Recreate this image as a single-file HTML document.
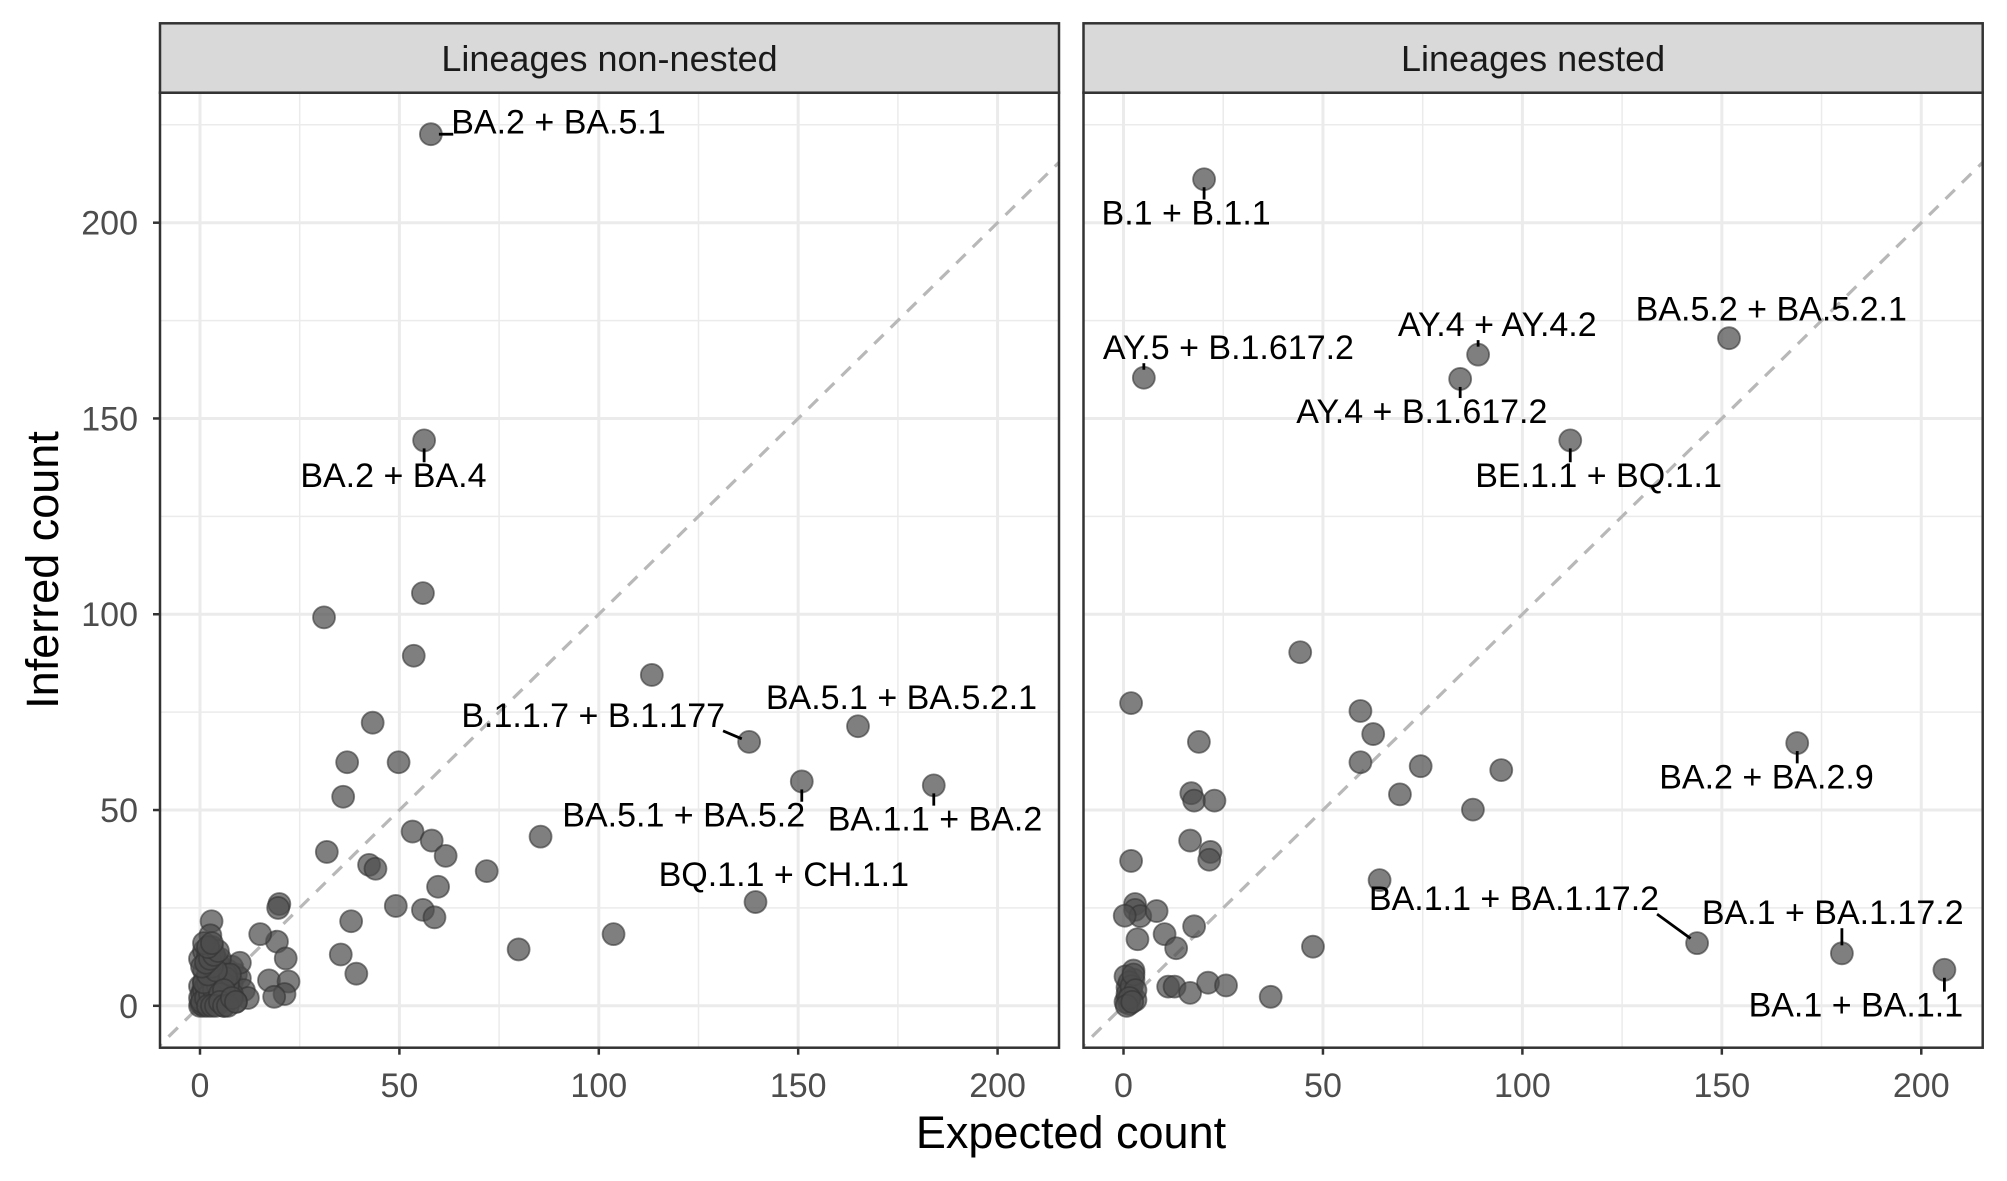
<!DOCTYPE html>
<html><head><meta charset="utf-8"><style>
html,body{margin:0;padding:0;background:#fff;}
svg{display:block;font-family:"Liberation Sans",Arial,sans-serif;}
</style></head><body>
<svg id="chart" width="2007" height="1181" viewBox="0 0 2007 1181" xmlns="http://www.w3.org/2000/svg"></svg>
<script>
const xTicks=[0,50,100,150,200];
const yTicks=[0,50,100,150,200];
const panelTitles=["Lineages non-nested","Lineages nested"];
const leftX=[57.9,56.2,137.7,165,150.9,184,139.3,31.1,55.9,53.6,113.3,43.3,36.9,49.8,35.9,85.4,53.3,58.1,61.6,31.8,42.4,44,59.7,71.9,49.1,55.9,58.8,37.9,35.3,39.2,79.9,103.7,19.9,19.6,19.3,21.5,15.1,17.3,22.2,21.2,18.6,2.9,2.6,0,0.5,1,1,2,1,2,0,1,2,3,1,2,3,4,0,1,3,4,5,6,5,6,7,8,9,8,10,11,12,7,9,10,3,4,6,8,3,5,7,2,4,0.3,1.5,2.5,0.8,3.5,0,0.5,1,1.5,2,2.5,3,3.5,4,4.5,5,5.5,6,6.5,7,0.5,1.5,2.5,3.5,4.5,5.5,6.5,7.5,1,2,3,4,5,6,0.5,1.5,2.5,3.5,4.5,2,3,4,5,6,7,8,9,1,2,3];
const leftY=[222.6,144.4,67.4,71.4,57.3,56.3,26.5,99.2,105.4,89.4,84.5,72.3,62.2,62.2,53.4,43.2,44.5,42.2,38.3,39.3,36,35,30.4,34.4,25.5,24.5,22.6,21.6,13.1,8.2,14.4,18.3,26,25,16.4,12.1,18.3,6.5,6.2,3,2.3,21.6,18,0,1,0,2,1,3,4,5,6,7,8,9,10,11,12,12,14,3,2,1,3,5,7,9,6,8,10,7,4,2,2,1,11,15,1,0,3,5,9,6,13,8,0.5,0.5,1.5,4,6,2,3,4,5,6,7,8,9,10,11,12,4,6,8,5,1,2,3,4,5,6,7,8,6,8,10,9,3,4,10,11,12,13,14,0,0,0,1,0,0,2,1,16,15,16];
const rightX=[20.2,5.1,88.9,84.4,151.8,112,168.9,143.8,180.1,205.8,44.3,1.9,59.4,62.6,74.5,59.4,94.7,18.9,17,17.7,22.8,69.3,87.6,16.7,21.8,21.5,1.9,64.2,2.9,2.9,4.2,0.3,8.3,3.5,10.3,13.2,17.7,47.5,11.2,12.8,16.7,21.2,25.7,36.9,2.5,2.5,1,1,1.5,0.5,2,3,1.5,0.5,1,2,2.5,3,1.5,0.8,2.2];
const rightY=[211.1,160.4,166.3,160.1,170.5,144.4,67.1,16,13.4,9.2,90.3,77.3,75.3,69.4,61.2,62.2,60.2,67.4,54.3,52.4,52.4,54,50.1,42.2,39.3,37.3,37,32.1,26,24.5,22.9,23,24.2,17,18.3,14.7,20.3,15.1,4.9,4.9,3.3,5.9,5.2,2.3,9,6.7,4.7,2,0.5,7.5,3.5,1.5,6,1,3,5,8,4,2,0,1];
const leftLabels=["BA.2 + BA.5.1","BA.2 + BA.4","B.1.1.7 + B.1.177","BA.5.1 + BA.5.2.1","BA.5.1 + BA.5.2","BA.1.1 + BA.2","BQ.1.1 + CH.1.1"];
const leftLabelIdx=[0,1,2,3,4,5,6];
const leftLabelX=[89.9,48.5,98.6,175.9,121.3,184.3,146.4];
const leftLabelY=[225.9,135.5,74.3,78.9,48.8,47.8,33.7];
const rightLabels=["B.1 + B.1.1","AY.5 + B.1.617.2","AY.4 + AY.4.2","AY.4 + B.1.617.2","BA.5.2 + BA.5.2.1","BE.1.1 + BQ.1.1","BA.2 + BA.2.9","BA.1.1 + BA.1.17.2","BA.1 + BA.1.17.2","BA.1 + BA.1.1"];
const rightLabelIdx=[0,1,2,3,4,5,6,7,8,9];
const rightLabelX=[15.7,26.3,93.7,74.8,162.4,119.1,161.2,97.9,177.8,183.6];
const rightLabelY=[202.6,168.2,174.1,151.9,178.1,135.5,58.6,27.5,23.9,0.3];

const NS="http://www.w3.org/2000/svg";
const svg=document.getElementById('chart');
function mk(tag,attrs,parent){const e=document.createElementNS(NS,tag);for(const k in attrs)e.setAttribute(k,attrs[k]);(parent||svg).appendChild(e);return e;}
const xMin=-10.03,xMax=215.4,yMin=-10.7,yMax=233.2;
const pTop=92.7,pBottom=1047.7;
const panels=[{l:160,r:1059},{l:1083.5,r:1982.7}];
function yS(v){return pBottom-(v-yMin)/(yMax-yMin)*(pBottom-pTop);}
function xSf(p){return v=>p.l+(v-xMin)/(xMax-xMin)*(p.r-p.l);}

const datasets=[
 {xs:leftX,ys:leftY,labels:leftLabels,li:leftLabelIdx,lx:leftLabelX,ly:leftLabelY},
 {xs:rightX,ys:rightY,labels:rightLabels,li:rightLabelIdx,lx:rightLabelX,ly:rightLabelY}
];
panels.forEach((p,pi)=>{
 const xS=xSf(p);
 const g=mk('g',{});
 
 
 const cid='clip'+pi;
 const cp=mk('clipPath',{id:cid},g);mk('rect',{x:p.l,y:pTop,width:p.r-p.l,height:pBottom-pTop},cp);
 [25,75,125,175].forEach(v=>{mk('line',{x1:xS(v),x2:xS(v),y1:pTop,y2:pBottom,stroke:'#ebebeb','stroke-width':1.5},g);});
 [25,75,125,175,225].forEach(v=>{mk('line',{x1:p.l,x2:p.r,y1:yS(v),y2:yS(v),stroke:'#ebebeb','stroke-width':1.5},g);});
 xTicks.forEach(v=>{const l=mk('line',{x1:xS(v),x2:xS(v),y1:pTop,y2:pBottom,stroke:'#ebebeb','stroke-width':3},g);});
 yTicks.forEach(v=>{const l=mk('line',{x1:p.l,x2:p.r,y1:yS(v),y2:yS(v),stroke:'#ebebeb','stroke-width':3},g);});
 const dl=mk('line',{x1:xS(-12),y1:yS(-12),x2:xS(240),y2:yS(240),stroke:'#b8b8b8','stroke-width':3.2,'stroke-dasharray':'13 10','clip-path':'url(#'+cid+')'},g);
 
 const d=datasets[pi];
 const pg=mk('g',{'clip-path':'url(#'+cid+')'},g);
 d.xs.forEach((xv,i)=>{const c=mk('circle',{cx:xS(xv),cy:yS(d.ys[i]),r:11,fill:'#4d4d4d','fill-opacity':0.72,stroke:'#333','stroke-opacity':0.6,'stroke-width':1.8},pg);
  });
 d.labels.forEach((t,i)=>{
  const tx=xS(d.lx[i]),ty=yS(d.ly[i]);
  const te=mk('text',{x:tx,y:ty+12,'text-anchor':'middle','font-size':34,fill:'#000'},g);
  te.textContent=t;
  
  let bb;try{bb=te.getBBox();}catch(e){bb={x:tx-100,y:ty-14,width:200,height:34};}
  const px=xS(d.xs[d.li[i]]),py=yS(d.ys[d.li[i]]);
  const bx0=bb.x+2,bx1=bb.x+bb.width-2,by0=bb.y+5,by1=bb.y+bb.height-4;
  const ex=Math.max(bx0,Math.min(px,bx1)),ey=Math.max(by0,Math.min(py,by1));
  const dx=ex-px,dy=ey-py,dist=Math.hypot(dx,dy);
  if(dist>14){const sx=px+dx/dist*8,sy=py+dy/dist*8;
   const s=mk('line',{x1:sx,y1:sy,x2:ex,y2:ey,stroke:'#000','stroke-width':2.8},g);
   }
 });
 mk('rect',{x:p.l,y:pTop,width:p.r-p.l,height:pBottom-pTop,fill:'none',stroke:'#333','stroke-width':2.5},g);
 const st=mk('rect',{x:p.l,y:23.3,width:p.r-p.l,height:69.4,fill:'#d9d9d9',stroke:'#333','stroke-width':2.5},g);
 
 const stt=mk('text',{x:(p.l+p.r)/2,y:71,'text-anchor':'middle','font-size':36,fill:'#1a1a1a'},g);
 stt.textContent=panelTitles[pi];
 
 xTicks.forEach(v=>{mk('line',{x1:xS(v),x2:xS(v),y1:pBottom,y2:pBottom+7,stroke:'#333','stroke-width':2.5},g);
  const t=mk('text',{x:xS(v),y:1097,'text-anchor':'middle','font-size':34,fill:'#4d4d4d'},g);t.textContent=v;
  });
 if(pi===0){yTicks.forEach(v=>{mk('line',{x1:p.l-7,x2:p.l,y1:yS(v),y2:yS(v),stroke:'#333','stroke-width':2.5},g);
  const t=mk('text',{x:138,y:yS(v)+12,'text-anchor':'end','font-size':34,fill:'#4d4d4d'},g);t.textContent=v;
  });}
});
const xt=mk('text',{x:1071,y:1148,'text-anchor':'middle','font-size':45,fill:'#000'});
xt.textContent='Expected count';


const yt=mk('text',{x:0,y:0,'text-anchor':'middle','font-size':45,fill:'#000',transform:'translate(58,570) rotate(-90)'});
yt.textContent='Inferred count';


</script>
</body></html>
